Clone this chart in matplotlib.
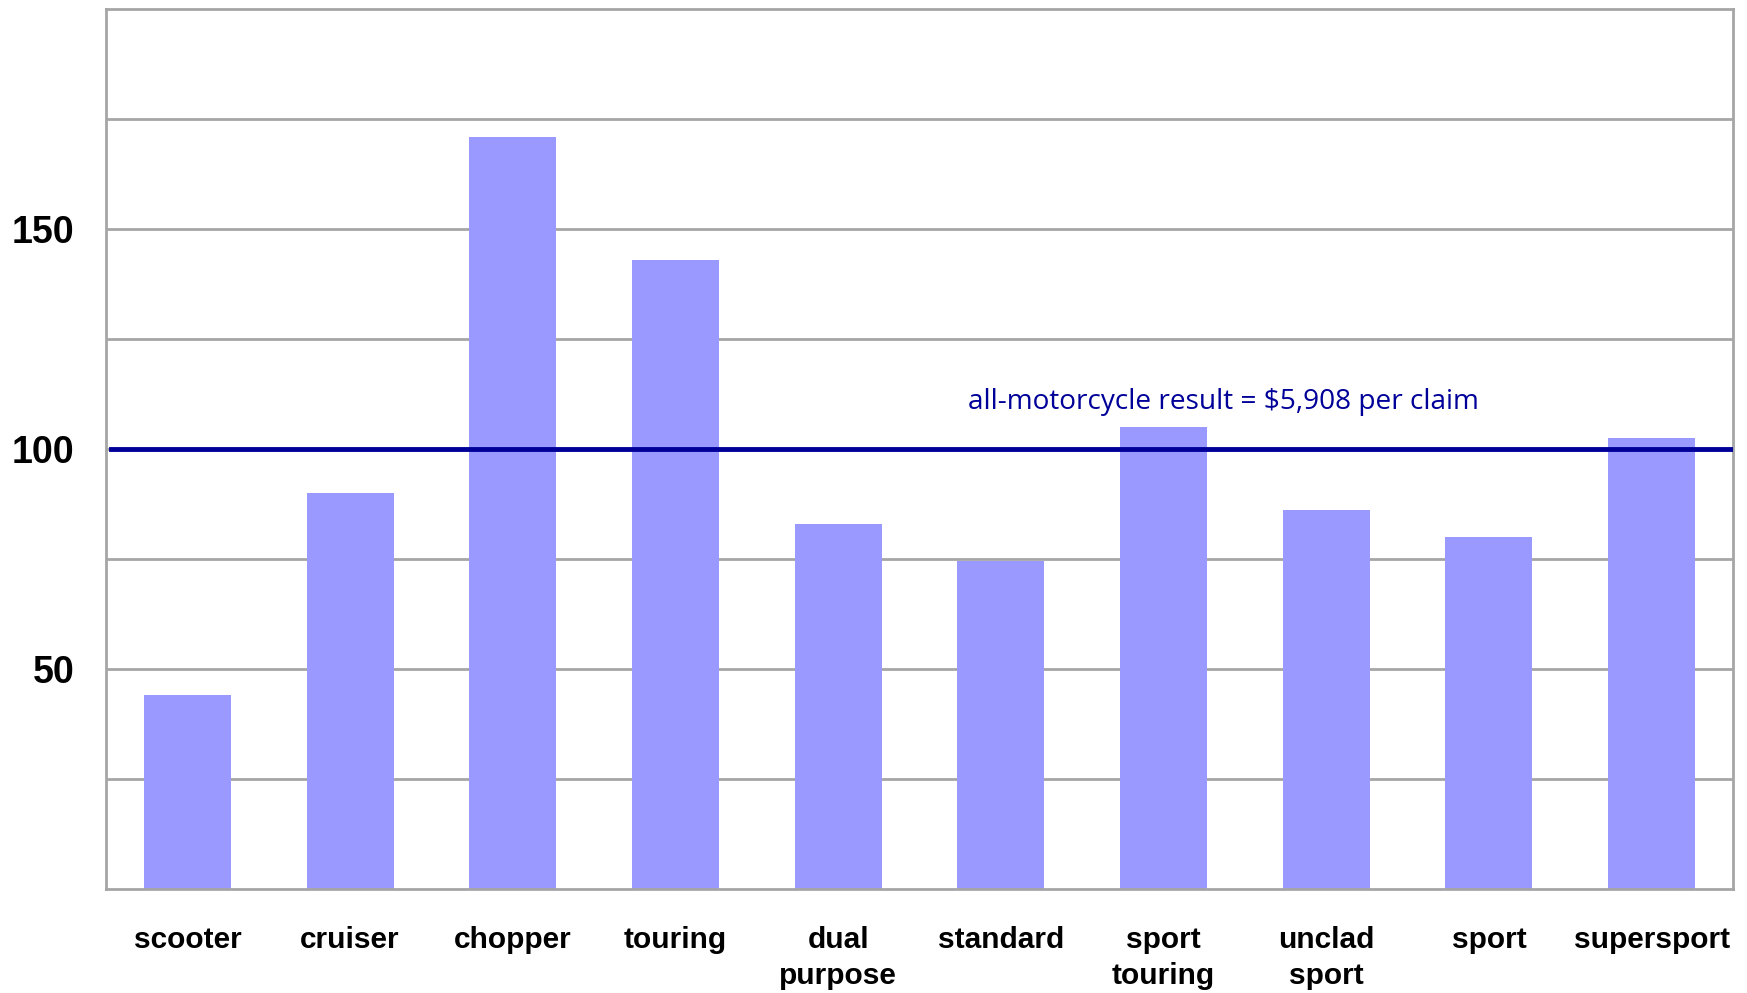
import matplotlib
matplotlib.use('Agg')
import matplotlib.pyplot as plt
import numpy as np

# claim cost index by motorcycle class (all motorcycles = 100)
categories = ["scooter", "cruiser", "chopper", "touring", "dual\npurpose",
              "standard", "sport\ntouring", "unclad\nsport", "sport", "supersport"]
values = [44, 90, 171, 143, 83, 74.5, 105, 86, 80, 102.5]
y_ticks = [50, 100, 150]
grid_levels = [25, 50, 75, 100, 125, 150, 175]
baseline = 100
baseline_label = "all-motorcycle result = $5,908 per claim"

fig = plt.figure(figsize=(17.47, 9.93), dpi=100)
ax = fig.add_axes([0.0607, 0.105, 0.9313, 0.886])

grey = "#a6a6a6"
for g in grid_levels:
	ax.axhline(g, color=grey, lw=2.0, zorder=1)

x = np.arange(len(categories))
ax.bar(x, values, width=0.535, color="#9999ff", zorder=2)

ax.axhline(baseline, xmin=0.003, color="#000099", lw=3.5, zorder=3)
ax.text(4.80, 110.6, baseline_label, color="#000099", fontsize=20.2,
	family=["Open Sans", "DejaVu Sans"], ha="left", va="center")

ax.set_xlim(-0.5, len(categories) - 0.5)
ax.set_ylim(0, 200)
ax.set_yticks(y_ticks)
ax.set_yticklabels([str(t) for t in y_ticks], fontsize=27, family="Liberation Sans",
	fontweight="bold")
ax.set_xticks(x)
ax.set_xticklabels(categories, fontsize=21.5, family="Liberation Sans", fontweight="bold",
	linespacing=1.35)
ax.tick_params(axis="both", length=0)
ax.tick_params(axis="y", pad=23)
ax.tick_params(axis="x", pad=27)

for s in ax.spines.values():
	s.set_color(grey)
	s.set_linewidth(2.0)

plt.savefig("out.png", dpi=100)
